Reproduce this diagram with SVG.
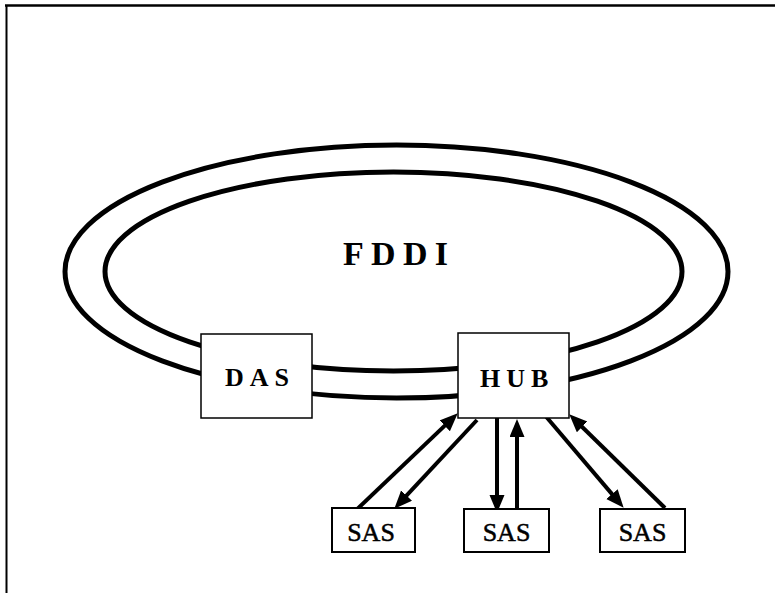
<svg xmlns="http://www.w3.org/2000/svg" width="775" height="593" viewBox="0 0 775 593">
<style>
.ring{fill:none;stroke:#000;stroke-width:5}
.box{fill:#fff;stroke:#000;stroke-width:1.5}
.sas{fill:#fff;stroke:#000;stroke-width:2}
.bold{font-family:"Liberation Serif","Times New Roman",serif;font-weight:bold;fill:#000}
.reg{font-family:"Liberation Serif","Times New Roman",serif;font-size:26px;fill:#000;stroke:#000;stroke-width:0.5;text-anchor:middle}
.arr{stroke:#000;stroke-width:4;fill:none;marker-end:url(#ah)}
</style>
<defs>
<marker id="ah" markerUnits="userSpaceOnUse" markerWidth="19" markerHeight="16" refX="7" refY="7.5" orient="auto" viewBox="0 0 19 16">
<path d="M0,0 L18,7.5 L0,15 z" fill="#000"/>
</marker>
</defs>
<rect width="775" height="593" fill="#fff"/>
<g id="frame">
<line x1="5" y1="5.5" x2="775" y2="5.5" stroke="#000" stroke-width="2.5"/>
<line x1="6.5" y1="5" x2="6.5" y2="593" stroke="#000" stroke-width="2"/>
</g>
<g id="ring">
<ellipse class="ring" cx="396.5" cy="271.5" rx="331.5" ry="126.5"/>
<ellipse class="ring" cx="393.5" cy="271.5" rx="288.5" ry="99.5"/>
<text class="bold" x="343" y="265" font-size="34" letter-spacing="7.3">FDDI</text>
</g>
<g id="connectors">
<line class="arr" x1="351" y1="515" x2="449.8" y2="420.9"/>
<line class="arr" x1="477" y1="420" x2="401.8" y2="500.7"/>
<line class="arr" x1="497" y1="418" x2="497" y2="502"/>
<line class="arr" x1="517" y1="509" x2="517" y2="430"/>
<line class="arr" x1="543" y1="413" x2="616.5" y2="499.4"/>
<line class="arr" x1="665" y1="508" x2="577.1" y2="422"/>
</g>
<g id="das">
<rect class="box" x="201" y="334" width="111" height="84"/>
<text class="bold" x="225" y="386" font-size="26" letter-spacing="6">DAS</text>
</g>
<g id="hub">
<rect class="box" x="458" y="333" width="111" height="85"/>
<text class="bold" x="480" y="387" font-size="26" letter-spacing="6">HUB</text>
</g>
<g id="sas1">
<rect class="sas" x="332" y="508" width="83" height="44"/>
<text class="reg" x="371" y="541">SAS</text>
</g>
<g id="sas2">
<rect class="sas" x="464" y="509" width="85" height="43"/>
<text class="reg" x="506.5" y="541">SAS</text>
</g>
<g id="sas3">
<rect class="sas" x="600" y="509" width="85" height="43"/>
<text class="reg" x="642.5" y="541">SAS</text>
</g>
</svg>
